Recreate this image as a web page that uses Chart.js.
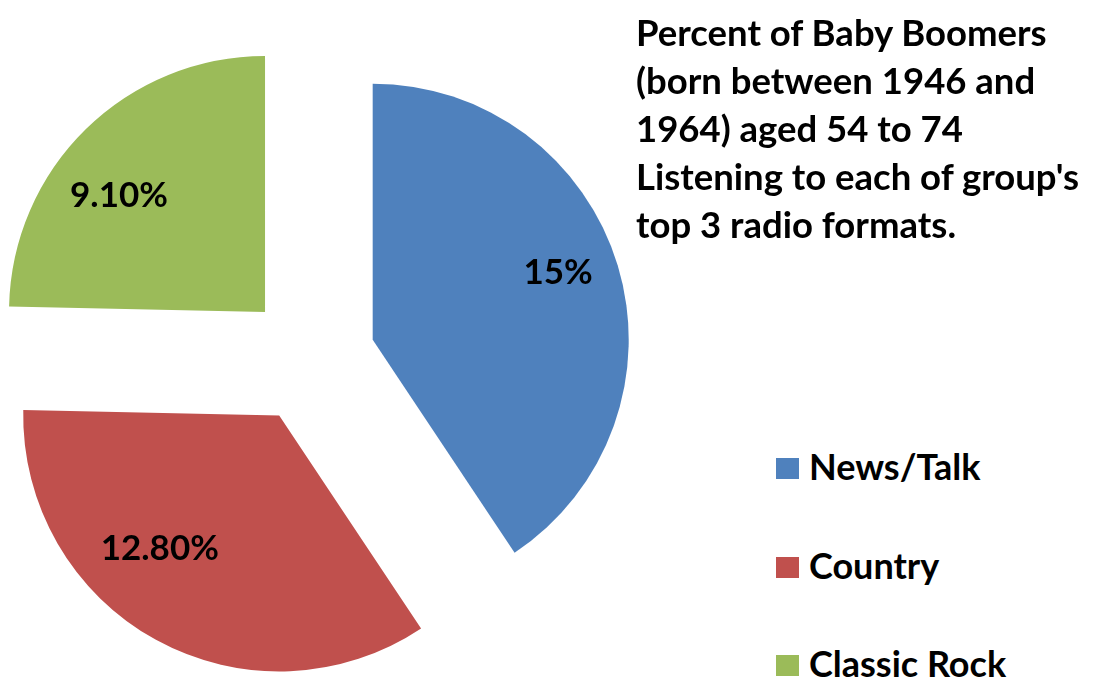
<!DOCTYPE html>
<html lang="en">
<head>
  <meta charset="UTF-8">
  <title>Baby Boomers radio formats</title>
  <script src="https://cdn.jsdelivr.net/npm/chart.js"></script>
  <style>
    body { margin: 0; width: 1096px; height: 679px; overflow: hidden; background: #fff; position: relative; font-family: Lato, "Open Sans", sans-serif; font-weight: 700; color: #000; }
    .grafico { position: absolute; left: -50px; top: -2px; width: 721px; height: 721px; }
    .titulo { position: absolute; left: 636px; top: 8px; font-size: 36.5px; line-height: 48px; }
    .legenda { position: absolute; left: 776px; top: 446px; }
    .item { height: 98.5px; display: flex; align-items: flex-start; font-size: 36px; line-height: 40px; }
    .item span.cor { width: 23px; height: 21px; margin-top: 12px; margin-right: 10px; }
  </style>
</head>
<body>
  <div class="grafico"><canvas id="graficoPizza"></canvas></div>
  <div class="titulo" id="titulo"></div>
  <div class="legenda" id="legenda"></div>
<script>
  // dados do grafico
  const formatos = ["News/Talk", "Country", "Classic Rock"];
  const percentuais = [15, 12.8, 9.1];
  const rotulos = ["15%", "12.80%", "9.10%"];
  const cores = ["#4F81BD", "#C0504D", "#9BBB59"];
  const linhasTitulo = [
    "Percent of Baby Boomers",
    "(born between 1946 and",
    "1964) aged 54 to 74",
    "Listening to each of group's",
    "top 3 radio formats."
  ];

  titulo.innerHTML = linhasTitulo.join("<br>");
  for (let i = 0; i < formatos.length; i++) {
    legenda.innerHTML += `<div class="item"><span class="cor" style="background:${cores[i]}"></span><span>${formatos[i]}</span></div>`;
  }

  // afasta cada fatia do centro, sem aumentar o raio (como no Excel)
  const explodir = {
    id: 'explodir',
    afterDatasetUpdate(chart, args, opts) {
      args.meta.data.forEach(function (arco) {
        const meio = (arco.startAngle + arco.endAngle) / 2;
        arco.x += Math.cos(meio) * opts.distancia;
        arco.y += Math.sin(meio) * opts.distancia;
      });
    }
  };

  // rotulos de valor dentro das fatias
  const rotulosFatias = {
    id: 'rotulosFatias',
    afterDatasetsDraw(chart, args, opts) {
      const ctx = chart.ctx;
      const arcos = chart.getDatasetMeta(0).data;
      ctx.save();
      ctx.font = opts.fonte;
      ctx.fillStyle = '#000';
      ctx.textAlign = 'center';
      ctx.textBaseline = 'middle';
      arcos.forEach(function (arco, i) {
        const ang = (arco.startAngle + arco.endAngle) / 2 + opts.giro[i] * Math.PI / 180;
        const r = arco.outerRadius * opts.raio[i];
        ctx.fillText(rotulos[i], arco.x + Math.cos(ang) * r, arco.y + Math.sin(ang) * r);
      });
      ctx.restore();
    }
  };

  new Chart(document.getElementById('graficoPizza'), {
    type: 'pie',
    data: {
      labels: formatos,
      datasets: [{
        data: percentuais,
        backgroundColor: cores,
        borderWidth: 0
      }]
    },
    options: {
      responsive: true,
      maintainAspectRatio: false,
      animation: false,
      events: [],
      radius: 256,
      layout: { padding: 0 },
      plugins: {
        legend: { display: false },
        tooltip: { enabled: false },
        explodir: { distancia: 65 },
        rotulosFatias: {
          fonte: 'bold 35px Lato, sans-serif',
          raio: [0.77, 0.70, 0.73],
          giro: [-3, 13, -7]
        }
      }
    },
    plugins: [explodir, rotulosFatias]
  });
</script>
</body>
</html>
